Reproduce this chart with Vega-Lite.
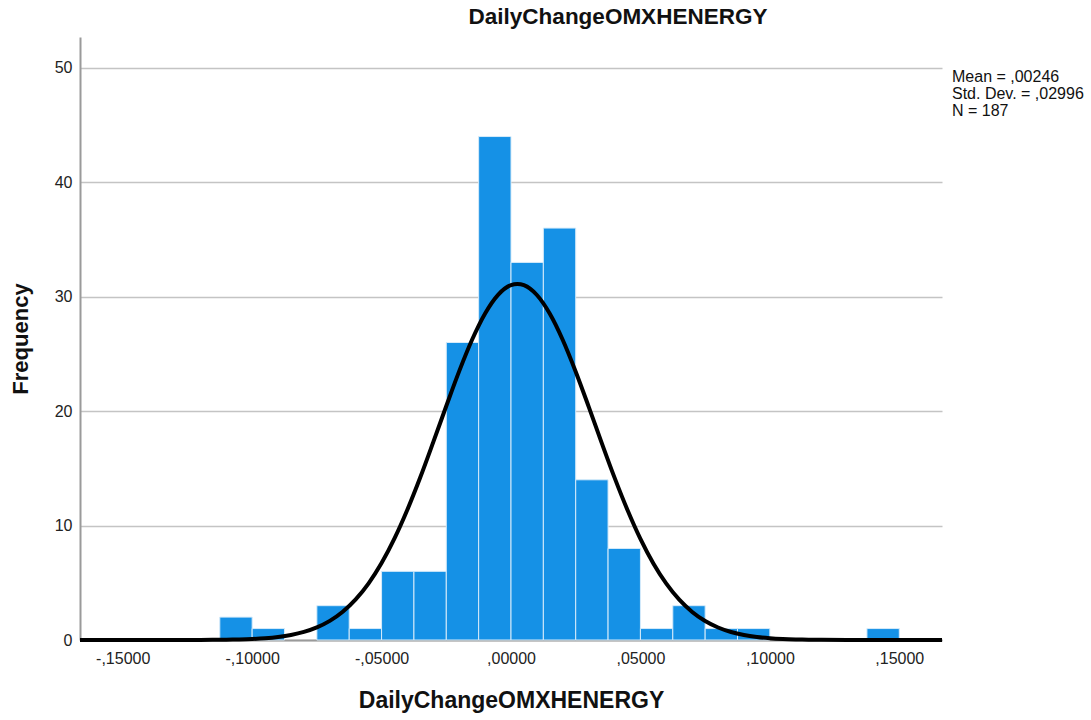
{
  "$schema": "https://vega.github.io/schema/vega-lite/v6.json",
  "width": 862,
  "height": 603,
  "autosize": {"type": "none"},
  "padding": {"left": 80, "top": 37, "right": 149, "bottom": 80},
  "background": "white",
  "config": {
    "font": "Liberation Sans",
    "view": {"stroke": null},
    "axis": {"labelFont": "Liberation Sans", "titleFont": "Liberation Sans", "labelColor": "#222222", "titleColor": "#111111"}
  },
  "title": {
    "text": "DailyChangeOMXHENERGY",
    "anchor": "middle",
    "frame": "group",
    "dx": 107,
    "offset": 9,
    "fontSize": 22.5,
    "fontWeight": "bold",
    "color": "#111111",
    "font": "Liberation Sans"
  },
  "datasets": {
    "bins": [
      {"start": -0.1125, "end": -0.1, "count": 2},
      {"start": -0.1, "end": -0.0875, "count": 1},
      {"start": -0.075, "end": -0.0625, "count": 3},
      {"start": -0.0625, "end": -0.05, "count": 1},
      {"start": -0.05, "end": -0.0375, "count": 6},
      {"start": -0.0375, "end": -0.025, "count": 6},
      {"start": -0.025, "end": -0.0125, "count": 26},
      {"start": -0.0125, "end": 0, "count": 44},
      {"start": 0, "end": 0.0125, "count": 33},
      {"start": 0.0125, "end": 0.025, "count": 36},
      {"start": 0.025, "end": 0.0375, "count": 14},
      {"start": 0.0375, "end": 0.05, "count": 8},
      {"start": 0.05, "end": 0.0625, "count": 1},
      {"start": 0.0625, "end": 0.075, "count": 3},
      {"start": 0.075, "end": 0.0875, "count": 1},
      {"start": 0.0875, "end": 0.1, "count": 1},
      {"start": 0.1375, "end": 0.15, "count": 1}
    ],
    "curve": [
      {"x": -0.1665, "y": 0},
      {"x": -0.14, "y": 0.0002},
      {"x": -0.13, "y": 0.0018},
      {"x": -0.125, "y": 0.0038},
      {"x": -0.12, "y": 0.0073},
      {"x": -0.115, "y": 0.0143},
      {"x": -0.11, "y": 0.0271},
      {"x": -0.105, "y": 0.0499},
      {"x": -0.1, "y": 0.0898},
      {"x": -0.095, "y": 0.157},
      {"x": -0.09, "y": 0.266},
      {"x": -0.085, "y": 0.439},
      {"x": -0.08, "y": 0.705},
      {"x": -0.075, "y": 1.1},
      {"x": -0.07, "y": 1.67},
      {"x": -0.065, "y": 2.466},
      {"x": -0.06, "y": 3.542},
      {"x": -0.055, "y": 4.948},
      {"x": -0.05, "y": 6.719},
      {"x": -0.045, "y": 8.875},
      {"x": -0.04, "y": 11.4},
      {"x": -0.035, "y": 14.24},
      {"x": -0.03, "y": 17.31},
      {"x": -0.025, "y": 20.45},
      {"x": -0.02, "y": 23.5},
      {"x": -0.015, "y": 26.26},
      {"x": -0.01, "y": 28.54},
      {"x": -0.005, "y": 30.17},
      {"x": 0, "y": 31.02},
      {"x": 0.00246, "y": 31.12},
      {"x": 0.005, "y": 31.01},
      {"x": 0.01, "y": 30.15},
      {"x": 0.015, "y": 28.51},
      {"x": 0.02, "y": 26.22},
      {"x": 0.025, "y": 23.45},
      {"x": 0.03, "y": 20.4},
      {"x": 0.035, "y": 17.25},
      {"x": 0.04, "y": 14.19},
      {"x": 0.045, "y": 11.36},
      {"x": 0.05, "y": 8.835},
      {"x": 0.055, "y": 6.687},
      {"x": 0.06, "y": 4.921},
      {"x": 0.065, "y": 3.522},
      {"x": 0.07, "y": 2.452},
      {"x": 0.075, "y": 1.66},
      {"x": 0.08, "y": 1.093},
      {"x": 0.085, "y": 0.7},
      {"x": 0.09, "y": 0.436},
      {"x": 0.095, "y": 0.264},
      {"x": 0.1, "y": 0.155},
      {"x": 0.105, "y": 0.089},
      {"x": 0.11, "y": 0.0495},
      {"x": 0.115, "y": 0.027},
      {"x": 0.12, "y": 0.014},
      {"x": 0.13, "y": 0.003},
      {"x": 0.14, "y": 0.0004},
      {"x": 0.1665, "y": 0}
    ],
    "stats": [
      {"label": "Mean = ,00246\nStd. Dev. = ,02996\nN = 187"}
    ]
  },
  "layer": [
    {
      "data": {"name": "bins"},
      "mark": {"type": "rect", "fill": "#1591e6", "stroke": "#d6ebfa", "strokeWidth": 1},
      "encoding": {
        "x": {
          "field": "start",
          "type": "quantitative",
          "scale": {"domain": [-0.1665, 0.1665], "nice": false, "zero": false},
          "axis": {
            "title": "DailyChangeOMXHENERGY",
            "titleFontSize": 23,
            "titleFontWeight": "bold",
            "titlePadding": 23,
            "values": [-0.15, -0.1, -0.05, 0, 0.05, 0.1, 0.15],
            "labelExpr": "(datum.value < -0.000001 ? '-' : '') + replace(format(abs(datum.value), '.5f'), '0.', ',')",
            "labelFontSize": 16,
            "labelPadding": 10,
            "ticks": false,
            "grid": false,
            "domainColor": "#9a9a9a",
            "domainWidth": 2
          }
        },
        "x2": {"field": "end"},
        "y": {
          "field": "count",
          "type": "quantitative",
          "scale": {"domain": [0, 52.7], "nice": false},
          "axis": {
            "title": "Frequency",
            "titleFontSize": 22,
            "titleFontWeight": "bold",
            "titlePadding": 22,
            "values": [0, 10, 20, 30, 40, 50],
            "labelFontSize": 16,
            "labelPadding": 8,
            "ticks": false,
            "grid": true,
            "gridColor": "#c4c4c4",
            "gridWidth": 1.5,
            "domainColor": "#9a9a9a",
            "domainWidth": 2
          }
        },
        "y2": {"datum": 0}
      }
    },
    {
      "data": {"name": "curve"},
      "mark": {"type": "line", "color": "#000000", "strokeWidth": 4, "interpolate": "monotone"},
      "encoding": {
        "x": {"field": "x", "type": "quantitative"},
        "y": {"field": "y", "type": "quantitative"}
      }
    },
    {
      "data": {"name": "stats"},
      "mark": {"type": "text", "align": "left", "baseline": "middle", "lineBreak": "\n", "lineHeight": 17, "fontSize": 16, "dx": 10, "dy": 9, "color": "#111111", "font": "Liberation Sans"},
      "encoding": {
        "x": {"datum": 0.1665, "type": "quantitative"},
        "y": {"datum": 50, "type": "quantitative"},
        "text": {"field": "label"}
      }
    }
  ]
}
